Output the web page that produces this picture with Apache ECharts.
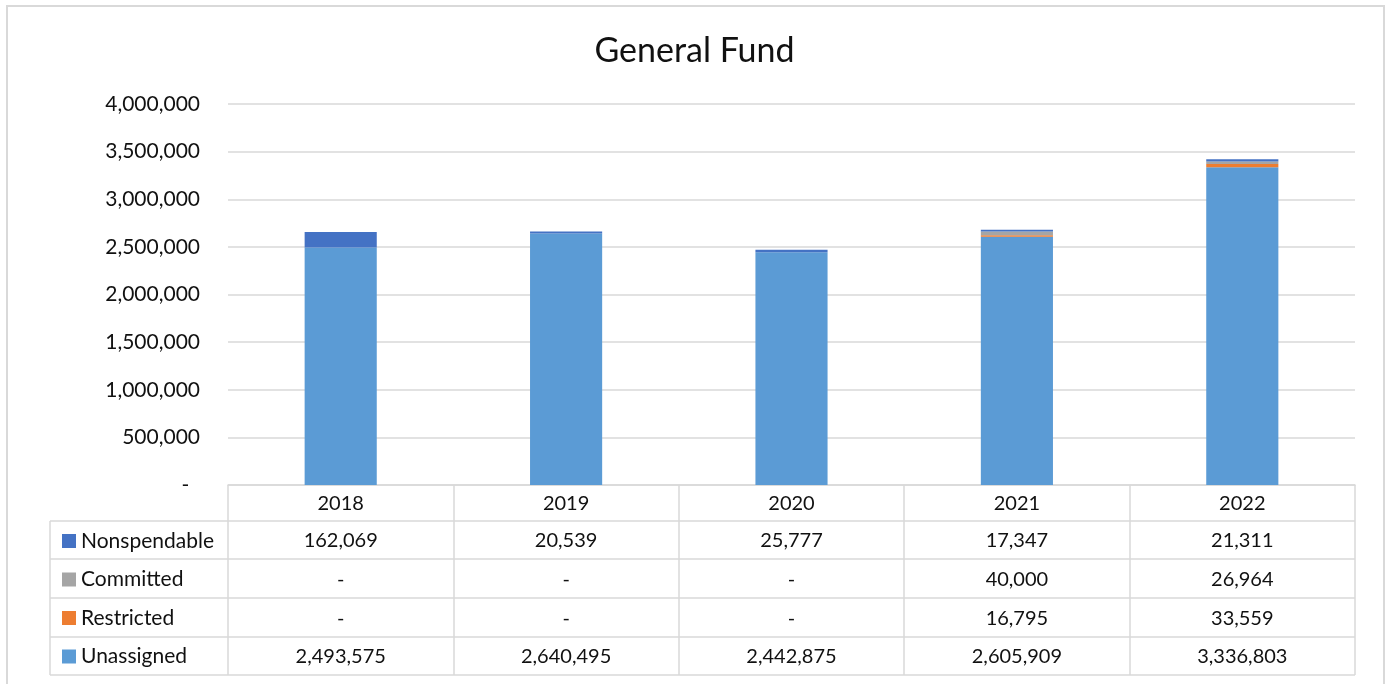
<!DOCTYPE html>
<html>
<head>
<meta charset="utf-8">
<title>General Fund</title>
<script src="https://cdn.jsdelivr.net/npm/echarts@6/dist/echarts.min.js"></script>
<style>
  html, body { margin: 0; padding: 0; background: #fff; }
  #main { width: 1389px; height: 684px; }
</style>
</head>
<body>
<div id="main"></div>
<script type="text/javascript">
  // data
  var years = ['2018', '2019', '2020', '2021', '2022'];
  var nonspendable = [162069, 20539, 25777, 17347, 21311];
  var committed = [0, 0, 0, 40000, 26964];
  var restricted = [0, 0, 0, 16795, 33559];
  var unassigned = [2493575, 2640495, 2442875, 2605909, 3336803];

  var colors = {
    Nonspendable: '#4472C4',
    Committed: '#A5A5A5',
    Restricted: '#ED7D31',
    Unassigned: '#5B9BD5'
  };

  var font = 'Lato, "Liberation Sans", sans-serif';
  var lineColor = '#d9d9d9';

  function fmt(v) {
    if (v === 0) return '-';
    return v.toLocaleString('en-US');
  }

  // table rows, top to bottom
  var tableRows = [
    { name: 'Nonspendable', data: nonspendable },
    { name: 'Committed', data: committed },
    { name: 'Restricted', data: restricted },
    { name: 'Unassigned', data: unassigned }
  ];
  var rowOffsets = [37, 76, 115, 153];

  var gridLeft = 228, gridRight = 1355, gridBottom = 485;
  var rowLines = [521, 559, 598, 637, 675];

  var chartDom = document.getElementById('main');
  var myChart = echarts.init(chartDom);

  var xAxes = [{
    type: 'category',
    data: years,
    position: 'bottom',
    axisLine: { lineStyle: { color: lineColor, width: 1.5 } },
    axisTick: { show: true, length: rowLines[4] - gridBottom, alignWithLabel: false, lineStyle: { color: lineColor, width: 1.5 } },
    axisLabel: { color: '#111', fontFamily: font, fontSize: 20, margin: 9 }
  }];
  tableRows.forEach(function (row, k) {
    xAxes.push({
      type: 'category',
      data: years,
      position: 'bottom',
      offset: rowOffsets[k],
      axisLine: { show: false },
      axisTick: { show: false },
      splitLine: { show: false },
      axisLabel: {
        color: '#111', fontFamily: font, fontSize: 20, margin: 9, interval: 0,
        formatter: function (value, index) { return fmt(row.data[index]); }
      }
    });
  });

  var graphics = [{
    type: 'rect',
    shape: { x: 7, y: 6, width: 1377, height: 700 },
    style: { fill: null, stroke: lineColor, lineWidth: 2 },
    silent: true
  }, {
    type: 'line',
    shape: { x1: 50, y1: rowLines[0], x2: 50, y2: rowLines[4] },
    style: { stroke: lineColor, lineWidth: 1.5 }
  }];
  rowLines.forEach(function (y) {
    graphics.push({
      type: 'line',
      shape: { x1: 50, y1: y, x2: gridRight, y2: y },
      style: { stroke: lineColor, lineWidth: 1.5 }
    });
  });

  var stackOrder = ['Unassigned', 'Restricted', 'Committed', 'Nonspendable'];
  var seriesData = {
    Unassigned: unassigned,
    Restricted: restricted,
    Committed: committed,
    Nonspendable: nonspendable
  };

  var option = {
    animation: false,
    title: {
      text: 'General Fund',
      left: 'center',
      top: 29,
      textStyle: { fontFamily: font, fontSize: 34, fontWeight: 'normal', color: '#111' }
    },
    legend: {
      data: ['Nonspendable', 'Committed', 'Restricted', 'Unassigned'],
      orient: 'vertical',
      left: 57,
      top: 524,
      itemWidth: 14,
      itemHeight: 14,
      itemGap: 14.5,
      icon: 'rect',
      selectedMode: false,
      textStyle: { fontFamily: font, fontSize: 21, color: '#111', lineHeight: 24 }
    },
    grid: {
      left: gridLeft,
      right: 1389 - gridRight,
      top: 104,
      bottom: 684 - gridBottom
    },
    xAxis: xAxes,
    yAxis: {
      type: 'value',
      min: 0,
      max: 4000000,
      interval: 500000,
      axisLine: { show: false },
      axisTick: { show: false },
      splitLine: { lineStyle: { color: lineColor, width: 1.5 } },
      axisLabel: {
        color: '#111', fontFamily: font, fontSize: 21, margin: 28,
        formatter: function (v) { return v === 0 ? '-  ' : fmt(v); }
      }
    },
    graphic: graphics,
    series: stackOrder.map(function (name) {
      return {
        name: name,
        type: 'bar',
        stack: 'fund',
        barWidth: '32%',
        itemStyle: { color: colors[name] },
        data: seriesData[name]
      };
    })
  };
  myChart.setOption(option);
</script>
</body>
</html>
